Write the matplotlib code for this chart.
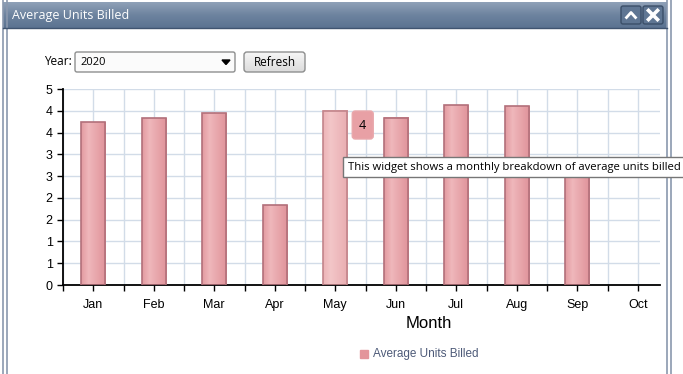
import numpy as np
import matplotlib
matplotlib.use('Agg')
import matplotlib.pyplot as plt
from matplotlib.patches import Rectangle, FancyBboxPatch
from matplotlib.colors import LinearSegmentedColormap

months = ['Jan', 'Feb', 'Mar', 'Apr', 'May', 'Jun', 'Jul', 'Aug', 'Sep', 'Oct']
avg_units = [4.15, 4.25, 4.38, 2.04, 4.45, 4.27, 4.59, 4.56, 3.10, 0.0]
hover_month = 'May'
year = '2020'
tooltip = 'This widget shows a monthly breakdown of average units billed'

W, H = 683, 374
fig = plt.figure(figsize=(W / 100, H / 100), dpi=100)
plt.rcParams['font.family'] = ['Liberation Sans', 'DejaVu Sans']
ui_font = ['Open Sans', 'DejaVu Sans']


def pixel_axes(z):
    # a full-figure axes addressed in pixels, top-left origin
    a = fig.add_axes([0, 0, 1, 1], zorder=z)
    a.set_xlim(0, W)
    a.set_ylim(H, 0)
    a.axis('off')
    a.patch.set_alpha(0)
    return a


bg = pixel_axes(0)

# window frame
for xf in (3, 7, 667, 671):
    bg.plot([xf, xf], [0, H], color='#8a98ae', lw=1.2)
bg.add_patch(Rectangle((7, 28), 660, H, color='white', zorder=0.5))

# title bar gradient
grad = np.linspace(0, 1, 50).reshape(-1, 1)
title_cmap = LinearSegmentedColormap.from_list('t', ['#8fa1b8', '#6d839f', '#5b7391'])
bg.imshow(grad, cmap=title_cmap, extent=[3, 667, 28, 2], aspect='auto', zorder=1)
bg.plot([3, 667], [28, 28], color='#3f5470', lw=1, zorder=2)
bg.text(12, 15, 'Average Units Billed', color='white', fontsize=9,
        family=ui_font, va='center', zorder=3)

# the two title buttons
for bx in (621, 643):
    bg.add_patch(FancyBboxPatch((bx, 6), 20, 18, boxstyle='round,pad=0,rounding_size=2',
                                fc='#5f7693', ec='#3b4f69', lw=1, zorder=3))
bg.plot([626.5, 631, 635.5], [17.5, 12.5, 17.5], color='white', lw=2, zorder=4)
bg.plot([648.5, 657.5], [10.5, 19.5], color='white', lw=2.6, zorder=4)
bg.plot([648.5, 657.5], [19.5, 10.5], color='white', lw=2.6, zorder=4)

# year selector and refresh button
bg.text(44, 61, 'Year:', fontsize=8.5, family=ui_font, va='center')
bg.add_patch(FancyBboxPatch((75, 52), 160, 20, boxstyle='round,pad=0,rounding_size=2',
                            fc='#fbfbfb', ec='#8e8f8f', lw=1, zorder=2))
bg.text(80, 62, year, fontsize=8, family=ui_font, va='center', zorder=3)
bg.add_patch(plt.Polygon([[222, 60], [230, 60], [226, 64.5]], color='black', zorder=3))
btn_grad = np.linspace(0, 1, 20).reshape(-1, 1)
btn_cmap = LinearSegmentedColormap.from_list('b', ['#f6f6f6', '#dcdcdc'])
bg.imshow(btn_grad, cmap=btn_cmap, extent=[244, 305, 72, 52], aspect='auto', zorder=2)
bg.add_patch(FancyBboxPatch((244, 52), 61, 20, boxstyle='round,pad=0,rounding_size=3',
                            fc='none', ec='#8e8f8f', lw=1, zorder=3))
bg.text(274.5, 62, 'Refresh', fontsize=8.5, family=ui_font,
        ha='center', va='center', zorder=4)

# chart axes
ax_l, ax_r, ax_t, ax_b = 63, 660, 89, 285
ax = fig.add_axes([ax_l / W, 1 - ax_b / H, (ax_r - ax_l) / W, (ax_b - ax_t) / H], zorder=5)
ax.patch.set_alpha(0)
x = np.arange(len(months))
slot = 60.5

yt = np.arange(10) * 5 / 9
ax.set_yticks(yt)
ax.set_yticklabels([str(int(np.floor(v + 0.5))) for v in yt])
ax.set_xticks(x)
ax.set_xticklabels(months)
ax.set_xticks(np.arange(len(months) + 1) - 0.5, minor=True)
ax.tick_params(axis='both', which='both', direction='out', length=4, width=1, labelsize=9)
ax.tick_params(axis='x', pad=6)
ax.grid(True, which='both', axis='x', color='#d2dce8', lw=1)
ax.grid(True, axis='y', color='#d2dce8', lw=1)
ax.set_axisbelow(True)
for s in ('top', 'right'):
    ax.spines[s].set_visible(False)
for s in ('left', 'bottom'):
    ax.spines[s].set_linewidth(1.3)

bar_w = 0.4
bar_cmap = LinearSegmentedColormap.from_list(
    'bar', [(0, '#e39ba1'), (0.3, '#efb7bb'), (1, '#e0939a')])
hover_cmap = LinearSegmentedColormap.from_list(
    'hov', [(0, '#ecb4b7'), (0.3, '#f3c6c8'), (1, '#e9adb1')])
hgrad = np.linspace(0, 1, 40).reshape(1, -1)
for xi, m, v in zip(x, months, avg_units):
    if v <= 0:
        continue
    cm = hover_cmap if m == hover_month else bar_cmap
    ec = '#c2858b' if m == hover_month else '#b2707a'
    ax.imshow(hgrad, cmap=cm, extent=[xi - bar_w / 2, xi + bar_w / 2, 0, v],
              aspect='auto', zorder=2)
    ax.add_patch(Rectangle((xi - bar_w / 2, 0), bar_w, v, fc='none', ec=ec, lw=1.2, zorder=3))
ax.set_xlim(-0.5, -0.5 + (ax_r - ax_l) / slot)
ax.set_ylim(0, 5)

bg.text(429, 323, 'Month', fontsize=12, ha='center', va='center')

# legend
bg.add_patch(Rectangle((360, 350), 8, 8, color='#e3959b', zorder=3))
bg.text(373, 354.5, 'Average Units Billed', fontsize=8.5, color='#4d5a78', va='center')

# overlays sit above the chart
ov = pixel_axes(10)

# hover value box for May
hi = months.index(hover_month)
hv = avg_units[hi]
bx0 = ax_l + (hi + 0.5) * slot + 17
ov.add_patch(FancyBboxPatch((bx0, 111), 21, 28, boxstyle='round,pad=0,rounding_size=3',
                            fc='#e8a0a5', ec='#e9a8ac', lw=1, zorder=5))
ov.text(bx0 + 10.5, 125.5, str(int(round(hv))), fontsize=9, ha='center', va='center',
        family=ui_font, zorder=6)

# tooltip box
ov.add_patch(Rectangle((343, 157), 345, 20, fc='white', ec='#767676', lw=1, zorder=7))
ov.text(348, 167.5, tooltip, fontsize=8.1, family=ui_font, va='center', zorder=8)

fig.savefig('out.png', dpi=100)
